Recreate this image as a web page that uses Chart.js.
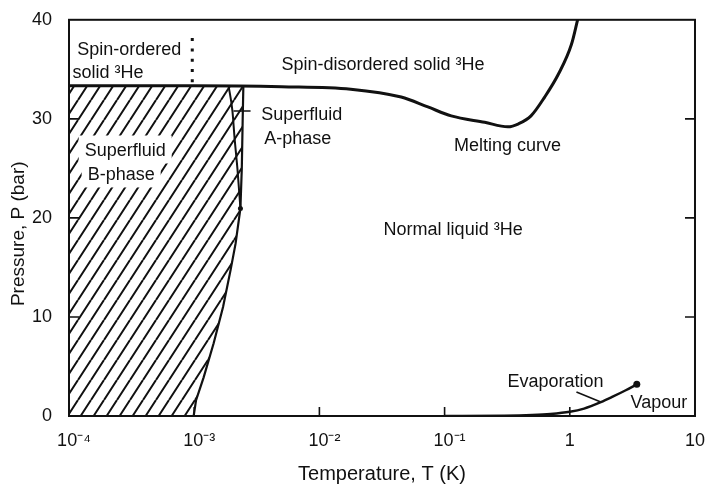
<!DOCTYPE html>
<html>
<head>
<meta charset="utf-8">
<script src="https://cdn.jsdelivr.net/npm/chart.js@4.4.1/dist/chart.umd.min.js"></script>
<style>
  html, body { margin: 0; padding: 0; background: #fff; }
  #wrap { width: 711px; height: 486px; }
</style>
</head>
<body>
<div id="wrap"><canvas id="phaseChart" width="711" height="486"></canvas></div>
<script>
// 3He phase diagram, temperature on a log axis
const xTickValues = [1e-4, 1e-3, 1e-2, 1e-1, 1, 10];
const xTickLabels = ["  10⁻⁴", "  10⁻³", "  10⁻²", "  10⁻¹", "1", "10"];
const yTickValues = [0, 10, 20, 30, 40];

// melting curve
const meltT = [1e-4, 1e-3, 0.005, 0.0178, 0.045, 0.0735, 0.113, 0.209, 0.32, 0.39, 0.49, 0.63, 0.81, 1.03, 1.16];
const meltP = [33.35, 33.35, 33.25, 33.0, 32.2, 31.2, 30.3, 29.65, 29.2, 29.5, 30.3, 32.2, 34.5, 37.5, 40.1];

// superfluid transition line (bottom to top)
const tcT = [0.99e-3, 1.035e-3, 1.19e-3, 1.43e-3, 1.70e-3, 1.95e-3, 2.14e-3, 2.34e-3, 2.40e-3, 2.44e-3, 2.47e-3];
const tcP = [0, 1.6, 3.9, 7.35, 11.0, 14.7, 17.4, 20.96, 25, 30, 33.35];

// A-B transition line
const abT = [1.88e-3, 2.02e-3, 2.10e-3, 2.22e-3, 2.34e-3];
const abP = [33.35, 30.8, 28.1, 24.8, 20.96];

// evaporation curve up to the critical point
const vapT = [0.1, 0.3, 0.5, 0.7, 1.0, 1.3, 1.77, 2.2, 2.8, 3.43];
const vapP = [0, 0.03, 0.1, 0.2, 0.42, 0.75, 1.4, 1.95, 2.6, 3.2];

// spin ordering boundary (dotted)
const spinT = [0.965e-3, 0.965e-3];
const spinP = [38.15, 33.6];

// label pointers
const aLeaderT = [2.06e-3, 2.82e-3];
const aLeaderP = [30.8, 30.8];
const evapLeaderT = [1.13, 1.77];
const evapLeaderP = [2.42, 1.41];

const labelText = ["Spin-ordered", "solid ³He", "Spin-disordered solid ³He", "Superfluid", "A-phase",
  "Superfluid", "B-phase", "Melting curve", "Normal liquid ³He", "Evaporation", "Vapour"];
const labelT = [3.03e-4, 2.05e-4, 0.0322, 7.23e-3, 6.71e-3, 2.81e-4, 2.61e-4, 0.318, 0.117, 0.769, 5.15];
const labelP = [36.47, 34.16, 34.96, 29.92, 27.51, 26.2, 23.78, 26.8, 18.24, 2.92, 0.8];
const boxedLabels = [5, 6];

const ink = "#111";
const fontFamily = '"Liberation Sans", Arial, sans-serif';

function pts(xs, ys) {
  return xs.map((v, i) => ({ x: v, y: ys[i] }));
}

function makeHatch() {
  const w = 13, h = 20;
  const c = document.createElement("canvas");
  c.width = w;
  c.height = h;
  const g = c.getContext("2d");
  g.strokeStyle = ink;
  g.lineWidth = 2;
  g.beginPath();
  [-w, 0, w].forEach((dx) => {
    g.moveTo(dx, h);
    g.lineTo(dx + w, 0);
  });
  g.stroke();
  return g.createPattern(c, "repeat");
}

// hatched superfluid region: left edge, bottom, transition line, top
const hatchT = [1e-4].concat(tcT, [1e-4]);
const hatchP = [0].concat(tcP, [tcP[tcP.length - 1]]);

const labelPlugin = {
  id: "regionLabels",
  afterDatasetsDraw(chart) {
    const { ctx, scales: { x, y } } = chart;
    ctx.save();
    ctx.font = "18px " + fontFamily;
    ctx.textAlign = "center";
    ctx.textBaseline = "alphabetic";
    boxedLabels.forEach((i) => {
      const px = x.getPixelForValue(labelT[i]);
      const py = y.getPixelForValue(labelP[i]);
      const w = ctx.measureText(labelText[i]).width;
      ctx.fillStyle = "#fff";
      ctx.fillRect(px - w / 2 - 6, py - 21, w + 12, 28);
    });
    ctx.fillStyle = ink;
    labelText.forEach((txt, i) => {
      ctx.fillText(txt, x.getPixelForValue(labelT[i]), y.getPixelForValue(labelP[i]));
    });
    ctx.restore();
  }
};

// frame box with inward tick marks
const framePlugin = {
  id: "frame",
  afterDatasetsDraw(chart) {
    const { ctx, chartArea: a, scales: { x, y } } = chart;
    ctx.save();
    ctx.strokeStyle = ink;
    ctx.lineWidth = 2;
    ctx.strokeRect(a.left, a.top, a.right - a.left, a.bottom - a.top);
    ctx.lineWidth = 1.6;
    ctx.beginPath();
    yTickValues.slice(1, -1).forEach((v) => {
      const py = y.getPixelForValue(v);
      ctx.moveTo(a.left, py);
      ctx.lineTo(a.left + 10, py);
      ctx.moveTo(a.right, py);
      ctx.lineTo(a.right - 10, py);
    });
    xTickValues.slice(1, -1).forEach((v) => {
      const px = x.getPixelForValue(v);
      ctx.moveTo(px, a.bottom);
      ctx.lineTo(px, a.bottom - 9);
    });
    ctx.stroke();
    ctx.restore();
  }
};

const lineStyle = { borderColor: ink, pointRadius: 0, fill: false };

new Chart(document.getElementById("phaseChart"), {
  type: "line",
  data: {
    datasets: [
      Object.assign({ label: "Melting curve", data: pts(meltT, meltP), borderWidth: 3, cubicInterpolationMode: "monotone" }, lineStyle),
      Object.assign({ label: "Superfluid transition", data: pts(tcT, tcP), borderWidth: 2.2, tension: 0 }, lineStyle),
      Object.assign({ label: "A-B transition", data: pts(abT, abP), borderWidth: 2, cubicInterpolationMode: "monotone" }, lineStyle),
      Object.assign({ label: "Spin ordering", data: pts(spinT, spinP), borderWidth: 3, borderDash: [3, 7.3] }, lineStyle),
      Object.assign({ label: "Evaporation", data: pts(vapT, vapP), borderWidth: 2.5, cubicInterpolationMode: "monotone" }, lineStyle),
      Object.assign({ label: "A leader", data: pts(aLeaderT, aLeaderP), borderWidth: 1.5 }, lineStyle),
      Object.assign({ label: "Evap leader", data: pts(evapLeaderT, evapLeaderP), borderWidth: 1.5 }, lineStyle),
      {
        label: "Critical point",
        data: pts(vapT.slice(-1), vapP.slice(-1)),
        showLine: false, pointRadius: 3.5, pointBackgroundColor: ink, pointBorderColor: ink, pointBorderWidth: 0
      },
      {
        label: "Polycritical point",
        data: pts(abT.slice(-1), abP.slice(-1)),
        showLine: false, pointRadius: 2.5, pointBackgroundColor: ink, pointBorderColor: ink, pointBorderWidth: 0
      },
      {
        label: "Superfluid region",
        data: pts(hatchT, hatchP),
        borderWidth: 0, pointRadius: 0, tension: 0,
        fill: "shape", backgroundColor: makeHatch(), order: 10
      }
    ]
  },
  options: {
    responsive: false,
    animation: false,
    layout: { padding: { left: 0, right: 15, top: 19, bottom: 0 } },
    plugins: { legend: { display: false }, tooltip: { enabled: false } },
    scales: {
      x: {
        type: "logarithmic",
        min: 1e-4,
        max: 10,
        grid: { display: false },
        border: { display: false },
        afterBuildTicks: (s) => { s.ticks = xTickValues.map((v) => ({ value: v })); },
        afterFit: (s) => { s.height = 70; },
        ticks: {
          autoSkip: false, maxRotation: 0, padding: 6, color: ink,
          font: { family: fontFamily, size: 18 },
          callback: (v, i) => xTickLabels[i]
        },
        title: {
          display: true, text: "Temperature, T (K)", color: ink,
          font: { family: fontFamily, size: 20 }, padding: { top: 4, bottom: 0 }
        }
      },
      y: {
        type: "linear",
        min: 0,
        max: 40,
        grid: { display: false },
        border: { display: false },
        afterBuildTicks: (s) => { s.ticks = yTickValues.map((v) => ({ value: v })); },
        afterFit: (s) => { s.width = 69; },
        ticks: { padding: 9, color: ink, font: { family: fontFamily, size: 18 } },
        title: {
          display: true, text: "Pressure, P (bar)      ", color: ink,
          font: { family: fontFamily, size: 19 }, padding: { top: 7, bottom: 0 }
        }
      }
    }
  },
  plugins: [labelPlugin, framePlugin]
});
</script>
</body>
</html>
